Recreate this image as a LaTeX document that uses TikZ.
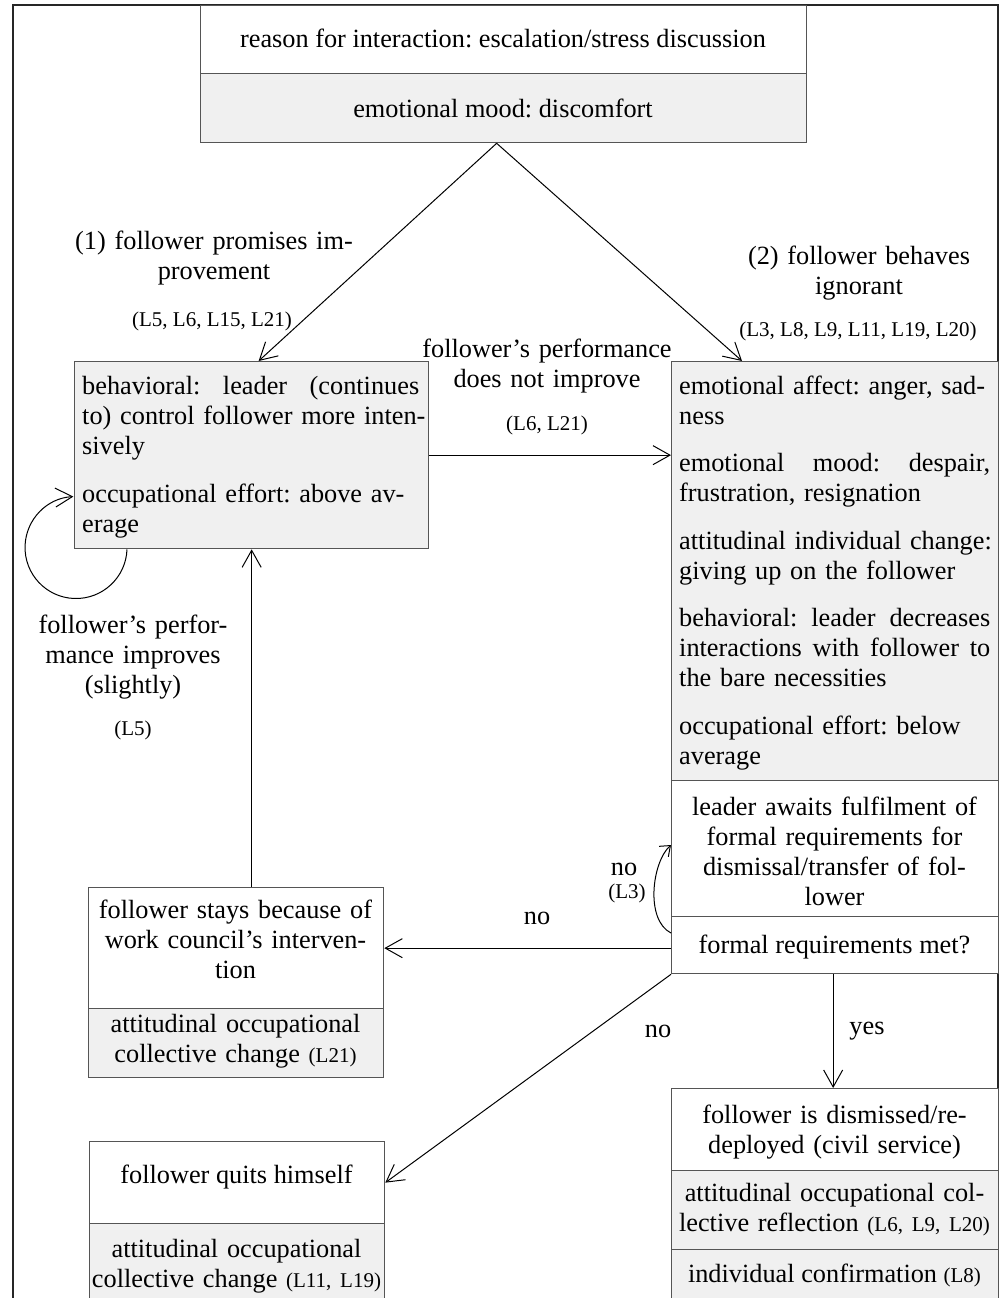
\documentclass[tikz,border=0pt]{standalone}
\usepackage{fontspec}
\setmainfont{Liberation Serif}
\usetikzlibrary{arrows.meta,calc}
\definecolor{boxgray}{RGB}{240,240,240}
\definecolor{edgegray}{RGB}{85,85,85}
\newcommand{\mainsz}{\fontsize{26.3}{30}\selectfont}
\newcommand{\refsz}{\fontsize{21}{24}\selectfont}
\newcommand{\jline}[2]{\leavevmode\hbox to #1pt{#2}}
\frenchspacing
\begin{document}
\frenchspacing
\begin{tikzpicture}[x=1pt,y=1pt,
  boxw/.style={draw=edgegray, line width=1.3pt, fill=white, inner sep=0pt, anchor=north west},
  boxg/.style={boxw, fill=boxgray},
  txt/.style={inner sep=0pt, font=\mainsz\frenchspacing, align=center},
  txtl/.style={inner sep=0pt, font=\mainsz\frenchspacing, align=left, anchor=base west},
  reftxt/.style={inner sep=0pt, font=\refsz\frenchspacing, anchor=base},
  arr/.style={draw=black, line width=1pt, -{Straight Barb[length=17pt,width=19pt]}},
  smallarr/.style={draw=black, line width=1pt, -{Straight Barb[length=9pt,width=14pt]}}
]
\useasboundingbox (0,0) rectangle (1002,-1298);
\clip (0,0) rectangle (1002,-1298);
\fill[white] (0,0) rectangle (1002,-1298);
\draw[line width=1.3pt, black!85] (13,-1300) -- (13,-5) -- (998,-5) -- (998,-1300);

% boxes
\node[boxw, minimum width=606pt, minimum height=68pt] (topA) at (200,-5) {};
\node[boxg, minimum width=606pt, minimum height=69pt] (topB) at (200,-73) {};
\node[boxg, minimum width=354pt, minimum height=187pt] (leftB) at (74,-361) {};
\node[boxg, minimum width=327pt, minimum height=419pt] (rightG) at (671,-361) {};
\node[boxw, minimum width=327pt, minimum height=136pt] (rightW) at (671,-780) {};
\node[boxw, minimum width=327pt, minimum height=57pt] (rightQ) at (671,-916) {};
\node[boxw, minimum width=295pt, minimum height=121pt] (stayW) at (88,-887) {};
\node[boxg, minimum width=295pt, minimum height=69pt] (stayG) at (88,-1008) {};
\node[boxw, minimum width=295pt, minimum height=82pt] (quitW) at (89,-1141) {};
\node[boxg, minimum width=295pt, minimum height=90pt] (quitG) at (89,-1223) {};
\node[boxw, minimum width=327pt, minimum height=82pt] (disW) at (671,-1088) {};
\node[boxg, minimum width=327pt, minimum height=79pt] (disG1) at (671,-1170) {};
\node[boxg, minimum width=327pt, minimum height=60pt] (disG2) at (671,-1249) {};

% box texts
\node[txt, anchor=base] (tA) at (503,-48) {reason for interaction: escalation/stress discussion};
\node[txt, anchor=base] (tB) at (503,-117) {emotional mood: discomfort};
\node[txtl, text width=346pt] (tL) at (82,-394) {\jline{337}{behavioral:\hfil leader\hfil (continues}\\to) control follower more inten-\\sively\\[18pt]occupational effort: above av-\\erage};
\node[txtl, text width=322pt] (tR) at (679,-394) {emotional affect: anger, sad-\\ness\\[17.5pt]\jline{311}{emotional\hfil mood:\hfil despair,}\\frustration, resignation\\[17.5pt]attitudinal individual change:\\giving up on the follower\\[17.5pt]\jline{311}{behavioral:\hfil leader\hfil decreases}\\\jline{311}{interactions\hfil with\hfil follower\hfil to}\\the bare necessities\\[17.5pt]occupational effort: below\\average};
\node[txt, text width=400pt, anchor=base] (tW) at (834.5,-815) {leader awaits fulfilment of\\formal requirements for\\dismissal/transfer of fol-\\lower};
\node[txt, anchor=base] (tQ) at (834.5,-953) {formal requirements met?};
\node[txt, text width=400pt, anchor=base] (tS) at (235.5,-918) {follower stays because of\\work council’s interven-\\tion};
\node[txt, text width=400pt, anchor=base] (tSG) at (235.5,-1032) {attitudinal occupational\\collective change {\refsz(L21)}};
\node[txt, anchor=base] (tQu) at (236.5,-1183) {follower quits himself};
\node[txt, text width=400pt, anchor=base] (tQG) at (236.5,-1257) {attitudinal occupational\\collective change {\refsz(L11, L19)}};
\node[txt, text width=400pt, anchor=base] (tD) at (834.5,-1123) {follower is dismissed/re-\\deployed (civil service)};
\node[txt, text width=400pt, anchor=base] (tDG1) at (834.5,-1201) {attitudinal occupational col-\\lective reflection {\refsz(L6, L9, L20)}};
\node[txt, anchor=base] (tDG2) at (834.5,-1282) {individual confirmation {\refsz(L8)}};

% edge labels
\node[txt, text width=400pt, anchor=base] (l1) at (214,-249) {(1) follower promises im-\\provement};
\node[reftxt] (r1) at (212,-326) {(L5, L6, L15, L21)};
\node[txt, text width=400pt, anchor=base] (l2) at (859,-264) {(2) follower behaves\\ignorant};
\node[reftxt] (r2) at (858,-336) {(L3, L8, L9, L11, L19, L20)};
\node[txt, text width=400pt, anchor=base] (l3) at (547,-357) {follower’s performance\\does not improve};
\node[reftxt] (r3) at (547,-430) {(L6, L21)};
\node[txt, text width=400pt, anchor=base] (l4) at (133,-633) {follower’s perfor-\\mance improves\\(slightly)};
\node[reftxt] (r4) at (133,-735) {(L5)};
\node[txt, anchor=base] (nL3) at (624,-875) {no};
\node[reftxt] (rL3) at (627,-898) {(L3)};
\node[txt, anchor=base] (no1) at (537,-924) {no};
\node[txt, anchor=base] (no2) at (658,-1037) {no};
\node[txt, anchor=base] (yes) at (867,-1034) {yes};

% connectors
\draw[arr] ([xshift=-7pt]topB.south) -- ([xshift=7pt]leftB.north);
\draw[arr] ([xshift=-7pt]topB.south) -- ([xshift=71pt]rightG.north west);
\draw[arr] (leftB.east) -- (leftB.east -| rightG.west);
\draw[arr] (leftB.south |- stayW.north) -- (leftB.south);
\draw[arr] ([yshift=-3pt]rightQ.west) -- ([yshift=-3pt]rightQ.west -| stayW.east);
\draw[arr] (rightQ.south west) -- (quitW.east);
\draw[arr] ([xshift=-2pt]rightQ.south) -- ([xshift=-2pt]disW.north);
\draw[smallarr] ([yshift=-17pt]rightQ.north west) .. controls +(-26,13) and +(-19,-17) .. ([yshift=-65pt]rightW.north west);
\draw[arr] ([xshift=53pt]leftB.south west) arc[start angle=-2, end angle=-267, radius=51];
\end{tikzpicture}
\end{document}
